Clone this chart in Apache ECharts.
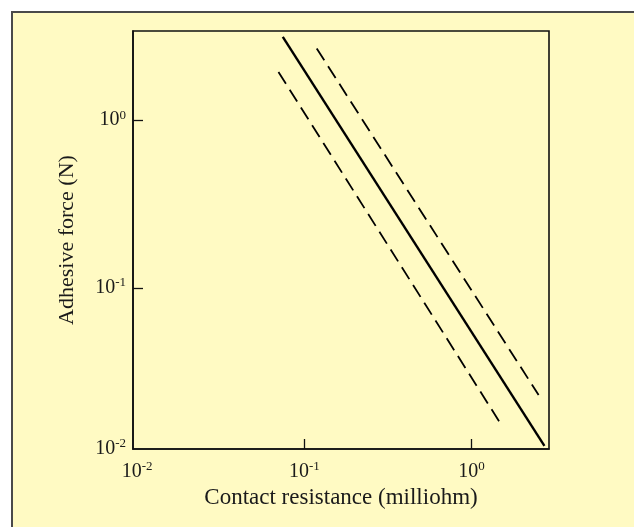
<!DOCTYPE html>
<html>
<head>
<meta charset="utf-8">
<script src="https://cdn.jsdelivr.net/npm/echarts@6/dist/echarts.min.js"></script>
<style>
  html, body { margin: 0; padding: 0; background: #ffffff; overflow: hidden; width: 634px; height: 527px; }
  #frame { position: absolute; left: 11px; top: 11px; width: 621px; height: 514px;
           background: #FFFAC3; border-left: 2px solid #4a4a4a; border-top: 2px solid #4a4a4a; }
  #chart { position: absolute; left: 0; top: 0; width: 634px; height: 527px; }
</style>
</head>
<body>
<div id="frame"></div>
<div id="chart"></div>
<script>
// Axis extents (log axes)
const xMin = 0.009438, xMax = 2.908;
const yMin = 0.01091, yMax = 3.408;
// Tick marks and tick labels
const xTickValues = [0.1, 1];
const xLabelValues = [0.01, 0.1, 1];
const yTickValues = [0.1, 1];
const yLabelValues = [yMin, 0.1, 1];   // bottom label "10^-2" sits at the axis corner

// Series: [contact resistance (milliohm), adhesive force (N)]
const centralLine = [[0.0743, 3.14], [2.73, 0.01138]];
const lowerBound  = [[0.0700, 1.94], [1.476, 0.01574]];
const upperBound  = [[0.1186, 2.68], [2.52, 0.0229]];

const FONT = '"Liberation Serif", "DejaVu Serif", serif';

function fmt(v) {
  const r = Math.round(Math.log10(v));
  return '10{s|' + r + '}';
}
const rich = {
  s: { fontSize: 13, fontFamily: FONT, color: '#1a1a1a', padding: [0, 0, 10, 0] }
};

const chart = echarts.init(document.getElementById('chart'), null, { renderer: 'canvas' });
chart.setOption({
  backgroundColor: 'transparent',
  animation: false,
  grid: { left: 133, right: 85, top: 31, bottom: 78 },
  xAxis: {
    type: 'log', logBase: 10, min: xMin, max: xMax,
    name: 'Contact resistance (milliohm)', nameLocation: 'middle', nameGap: 37,
    nameTextStyle: { fontFamily: FONT, fontSize: 23, color: '#1a1a1a' },
    axisLine: { show: true, lineStyle: { color: '#111', width: 1.6 } },
    axisTick: { show: true, inside: true, length: 10, customValues: xTickValues,
                lineStyle: { color: '#111', width: 1.3 } },
    minorTick: { show: false },
    splitLine: { show: false },
    axisLabel: { customValues: xLabelValues, formatter: fmt, rich: rich, margin: 11,
                 fontFamily: FONT, fontSize: 20, color: '#1a1a1a' }
  },
  yAxis: {
    type: 'log', logBase: 10, min: yMin, max: yMax,
    name: 'Adhesive force (N)', nameLocation: 'middle', nameGap: 55, nameRotate: 90,
    nameTextStyle: { fontFamily: FONT, fontSize: 22, color: '#1a1a1a' },
    axisLine: { show: true, lineStyle: { color: '#111', width: 1.6 } },
    axisTick: { show: true, inside: true, length: 10, customValues: yTickValues,
                lineStyle: { color: '#111', width: 1.3 } },
    minorTick: { show: false },
    splitLine: { show: false },
    axisLabel: { customValues: yLabelValues, formatter: fmt, rich: rich, margin: 7,
                 fontFamily: FONT, fontSize: 20, color: '#1a1a1a' }
  },
  series: [
    { type: 'line', data: centralLine, showSymbol: false, symbol: 'none',
      lineStyle: { color: '#000', width: 2.4, type: 'solid' } },
    { type: 'line', data: lowerBound, showSymbol: false, symbol: 'none',
      lineStyle: { color: '#000', width: 1.8, type: [14, 7] } },
    { type: 'line', data: upperBound, showSymbol: false, symbol: 'none',
      lineStyle: { color: '#000', width: 1.8, type: [14, 7] } }
  ],
  graphic: [
    { type: 'rect', shape: { x: 133, y: 31, width: 416, height: 418 }, silent: true, z: 0,
      style: { fill: 'none', stroke: '#111', lineWidth: 1.6 } }
  ]
});
</script>
</body>
</html>
